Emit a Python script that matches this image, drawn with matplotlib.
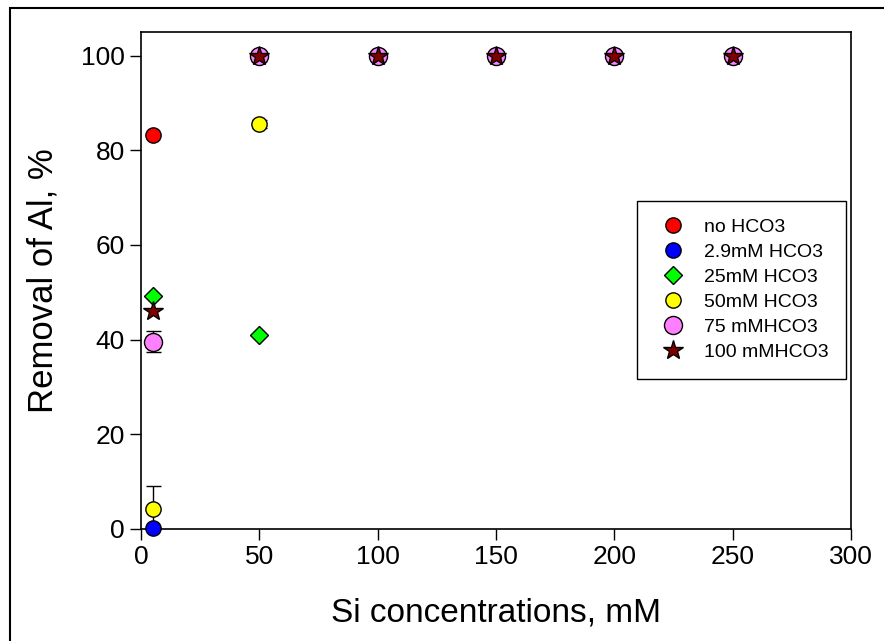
import matplotlib
matplotlib.use("Agg")
import matplotlib.pyplot as plt
from matplotlib.patches import Rectangle

plt.rcParams['font.family'] = ['Liberation Sans', 'DejaVu Sans']

# Si concentrations (mM)
si_conc = [5, 50, 100, 150, 200, 250]

# Removal of Al (%) per HCO3 level
no_hco3 = [83.2, 100, 100, 100, 100, 100]
hco3_2_9 = [0.3, 100, 100, 100, 100, 100]
hco3_25 = [49.2, 41.0, 100, 100, 100, 100]
hco3_50 = [4.2, 85.6, 100, 100, 100, 100]
hco3_75 = [39.6, 100, 100, 100, 100, 100]
hco3_100 = [46.0, 100, 100, 100, 100, 100]

# error bars
err_50 = [4.8, 0.8, 0, 0, 0, 0]
err_75 = [2.3, 0, 0, 0, 0, 0]

labels = ['no HCO3', '2.9mM HCO3', '25mM HCO3', '50mM HCO3', '75 mMHCO3', '100 mMHCO3']

fig = plt.figure(figsize=(8.84, 6.41), dpi=100)
ax = fig.add_axes([141 / 884, 1 - 529 / 641, 710 / 884, 497 / 641])

# outer frame around the figure (left and top edges visible)
fig.patches.append(Rectangle((10 / 884, -0.2), 1.2, 1.2 - 8 / 641,
                             transform=fig.transFigure, fill=False,
                             edgecolor='black', lw=1.5, clip_on=False))

# error bars first, markers on top
eb = dict(fmt='none', ecolor='black', elinewidth=1.0, capsize=5.4, capthick=1.0, zorder=2)
ax.errorbar(si_conc, hco3_50, yerr=err_50, **eb)
ax.errorbar(si_conc, hco3_75, yerr=err_75, **eb)

mk = dict(ls='none', mec='black', mew=1.0, clip_on=False, zorder=3)
ax.plot(si_conc, no_hco3, marker='o', ms=11, mfc='#ff0000', label=labels[0], **mk)
ax.plot(si_conc, hco3_2_9, marker='o', ms=11, mfc='#0000ff', label=labels[1], **mk)
ax.plot(si_conc, hco3_25, marker='D', ms=9.5, mfc='#00ff00', label=labels[2], **mk)
ax.plot(si_conc, hco3_50, marker='o', ms=11, mfc='#ffff00', label=labels[3], **mk)
ax.plot(si_conc, hco3_75, marker='o', ms=13, mfc='#ff80ff', label=labels[4], **mk)
ax.plot(si_conc, hco3_100, marker='*', ms=15, mfc='#800000', label=labels[5], **mk)

ax.set_xlim(0, 300)
ax.set_ylim(0, 105)
ax.set_xticks([0, 50, 100, 150, 200, 250, 300])
ax.set_yticks([0, 20, 40, 60, 80, 100])
ax.tick_params(direction='out', length=8, width=1, labelsize=19, top=False, right=False)
for s in ax.spines.values():
    s.set_linewidth(1.2)

ax.set_xlabel('Si concentrations, mM', fontsize=24)
ax.set_ylabel('Removal of Al, %', fontsize=25)
ax.xaxis.set_label_coords(0.5, -0.138)
ax.yaxis.set_label_coords(-0.115, 0.5)

leg = ax.legend(loc='upper left', bbox_to_anchor=(637 / 884, 1 - 201 / 641),
                bbox_transform=fig.transFigure, borderaxespad=0,
                fontsize=14, frameon=True, fancybox=False, edgecolor='black',
                framealpha=1, borderpad=0.9, labelspacing=0.38,
                handlelength=1.9, handletextpad=0.66)
leg.get_frame().set_linewidth(1.0)

fig.savefig('out.png', dpi=100)
